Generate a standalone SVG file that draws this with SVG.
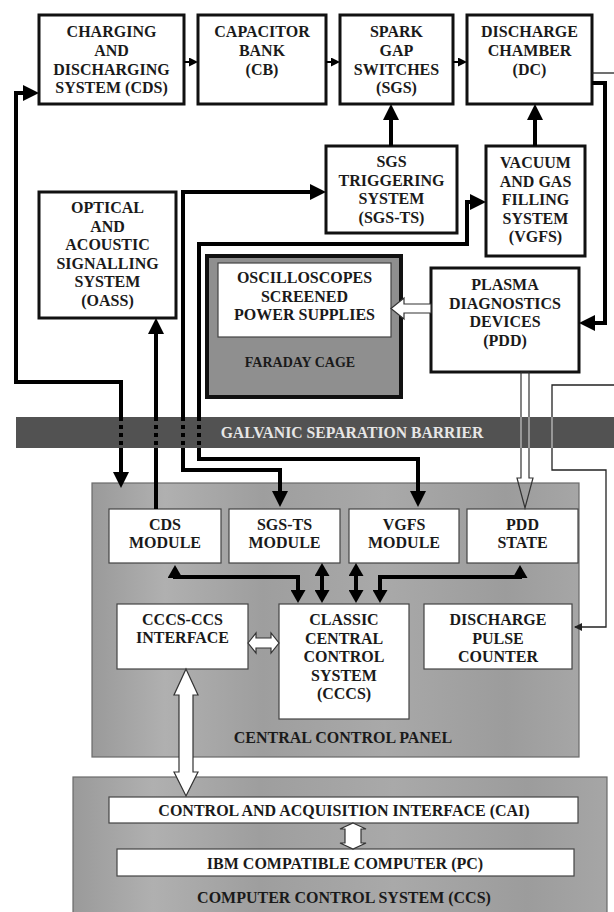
<svg xmlns="http://www.w3.org/2000/svg" width="614" height="912" viewBox="0 0 614 912">
<style>
.t{font-family:"Liberation Serif","Times New Roman",serif;font-weight:bold;font-size:16px;fill:#1a1a1a;text-anchor:middle}
.box{fill:#fff;stroke:#111;stroke-width:3}
.mod{fill:#fff;stroke:#444;stroke-width:1.2}
.panel{fill:#a4a4a4;stroke:#6a6a6a;stroke-width:1.2}
.thick{fill:none;stroke:#000;stroke-width:4;stroke-linejoin:miter}
.thin{fill:none;stroke:#222;stroke-width:1.3}
.small{fill:none;stroke:#000;stroke-width:2}
.hollow{fill:#fff;stroke:#333;stroke-width:1.2;stroke-linejoin:miter}
.dash{fill:none;stroke:#000;stroke-width:4;stroke-dasharray:4 4}
.lite{fill:none;stroke:#bdbdbd;stroke-width:1.3}
</style>
<defs>
<marker id="ah" markerUnits="userSpaceOnUse" markerWidth="16" markerHeight="16" viewBox="0 0 16 16" refX="10" refY="8" orient="auto-start-reverse"><path d="M0,0 L16,8 L0,16 z" fill="#000"/></marker>
<marker id="ah2" markerUnits="userSpaceOnUse" markerWidth="13" markerHeight="15" viewBox="0 0 13 15" refX="8" refY="7.5" orient="auto-start-reverse"><path d="M0,0 L13,7.5 L0,15 z" fill="#000"/></marker>
<marker id="as" markerUnits="userSpaceOnUse" markerWidth="9" markerHeight="9" viewBox="0 0 9 9" refX="7" refY="4.5" orient="auto"><path d="M0,0 L9,4.5 L0,9 z" fill="#000"/></marker>
<marker id="at" markerUnits="userSpaceOnUse" markerWidth="8" markerHeight="8" viewBox="0 0 8 8" refX="7" refY="4" orient="auto"><path d="M0,0 L8,4 L0,8 z" fill="#222"/></marker>
<linearGradient id="pg" x1="0" y1="0" x2="1" y2="0">
<stop offset="0" stop-color="#9a9a9a"/><stop offset="0.15" stop-color="#b0b0b0"/><stop offset="0.35" stop-color="#9e9e9e"/><stop offset="0.6" stop-color="#a9a9a9"/><stop offset="0.85" stop-color="#9c9c9c"/><stop offset="1" stop-color="#a6a6a6"/>
</linearGradient>
</defs>
<rect width="614" height="912" fill="#fff"/>

<g id="central-control-panel">
<rect class="panel" x="92" y="483" width="487" height="274" fill="url(#pg)" style="fill:url(#pg)"/>
<text class="t" x="343" y="743">CENTRAL CONTROL PANEL</text>
</g>
<g id="computer-control-system">
<rect class="panel" x="73" y="777" width="534" height="140" style="fill:url(#pg)"/>
<text class="t" x="344" y="903">COMPUTER CONTROL SYSTEM (CCS)</text>
</g>

<g id="faraday-cage">
<rect x="207" y="256" width="194" height="141" fill="#8f8f8f" stroke="#111" stroke-width="4"/>
<text class="t" x="300" y="367" style="font-size:14px">FARADAY CAGE</text>
</g>
<g id="oscilloscopes">
<rect x="218" y="263" width="173" height="74" fill="#fff" stroke="#444" stroke-width="1.2"/>
<text class="t" x="304.5" y="283">OSCILLOSCOPES</text>
<text class="t" x="304.5" y="302">SCREENED</text>
<text class="t" x="304.5" y="320">POWER SUPPLIES</text>
</g>

<g id="cds">
<rect class="box" x="39" y="15" width="145" height="89"/>
<text class="t" x="111.5" y="37">CHARGING</text>
<text class="t" x="111.5" y="56">AND</text>
<text class="t" x="111.5" y="75">DISCHARGING</text>
<text class="t" x="111.5" y="93">SYSTEM (CDS)</text>
</g>
<g id="cb">
<rect class="box" x="198" y="15" width="128" height="89"/>
<text class="t" x="262" y="37">CAPACITOR</text>
<text class="t" x="262" y="56">BANK</text>
<text class="t" x="262" y="75">(CB)</text>
</g>
<g id="sgs">
<rect class="box" x="340" y="15" width="113" height="89"/>
<text class="t" x="396.5" y="37">SPARK</text>
<text class="t" x="396.5" y="56">GAP</text>
<text class="t" x="396.5" y="75">SWITCHES</text>
<text class="t" x="396.5" y="93">(SGS)</text>
</g>
<g id="dc">
<rect class="box" x="467" y="15" width="125" height="89"/>
<text class="t" x="529.5" y="37">DISCHARGE</text>
<text class="t" x="529.5" y="56">CHAMBER</text>
<text class="t" x="529.5" y="75">(DC)</text>
</g>
<g id="sgs-ts">
<rect class="box" x="326" y="146" width="131" height="87"/>
<text class="t" x="391.5" y="167">SGS</text>
<text class="t" x="391.5" y="185.5">TRIGGERING</text>
<text class="t" x="391.5" y="204">SYSTEM</text>
<text class="t" x="391.5" y="222.5">(SGS-TS)</text>
</g>
<g id="vgfs">
<rect class="box" x="486" y="146" width="99" height="110"/>
<text class="t" x="535.5" y="168">VACUUM</text>
<text class="t" x="535.5" y="186.5">AND GAS</text>
<text class="t" x="535.5" y="205">FILLING</text>
<text class="t" x="535.5" y="223.5">SYSTEM</text>
<text class="t" x="535.5" y="242">(VGFS)</text>
</g>
<g id="oass">
<rect class="box" x="39" y="192" width="137" height="126"/>
<text class="t" x="107.5" y="213">OPTICAL</text>
<text class="t" x="107.5" y="231.5">AND</text>
<text class="t" x="107.5" y="250">ACOUSTIC</text>
<text class="t" x="107.5" y="268.5">SIGNALLING</text>
<text class="t" x="107.5" y="287">SYSTEM</text>
<text class="t" x="107.5" y="305.5">(OASS)</text>
</g>
<g id="pdd">
<rect class="box" x="431" y="268" width="148" height="104"/>
<text class="t" x="505" y="290">PLASMA</text>
<text class="t" x="505" y="308.5">DIAGNOSTICS</text>
<text class="t" x="505" y="327">DEVICES</text>
<text class="t" x="505" y="345.5">(PDD)</text>
</g>

<g id="cds-module">
<rect class="mod" x="109" y="509" width="112" height="54"/>
<text class="t" x="165" y="530">CDS</text>
<text class="t" x="165" y="548">MODULE</text>
</g>
<g id="sgs-ts-module">
<rect class="mod" x="229" y="509" width="111" height="54"/>
<text class="t" x="284.5" y="530">SGS-TS</text>
<text class="t" x="284.5" y="548">MODULE</text>
</g>
<g id="vgfs-module">
<rect class="mod" x="349" y="509" width="110" height="54"/>
<text class="t" x="404" y="530">VGFS</text>
<text class="t" x="404" y="548">MODULE</text>
</g>
<g id="pdd-state">
<rect class="mod" x="467" y="509" width="111" height="54"/>
<text class="t" x="522.5" y="530">PDD</text>
<text class="t" x="522.5" y="548">STATE</text>
</g>
<g id="cccs-ccs-interface">
<rect class="mod" x="117" y="604" width="131" height="65"/>
<text class="t" x="182.5" y="625">CCCS-CCS</text>
<text class="t" x="182.5" y="643">INTERFACE</text>
</g>
<g id="cccs">
<rect class="mod" x="279" y="604" width="130" height="115"/>
<text class="t" x="344" y="625">CLASSIC</text>
<text class="t" x="344" y="643.5">CENTRAL</text>
<text class="t" x="344" y="662">CONTROL</text>
<text class="t" x="344" y="680.5">SYSTEM</text>
<text class="t" x="344" y="699">(CCCS)</text>
</g>
<g id="discharge-pulse-counter">
<rect class="mod" x="424" y="604" width="148" height="65"/>
<text class="t" x="498" y="625">DISCHARGE</text>
<text class="t" x="498" y="643.5">PULSE</text>
<text class="t" x="498" y="662">COUNTER</text>
</g>
<g id="cai">
<rect class="mod" x="109" y="797" width="469" height="26"/>
<text class="t" x="344" y="816">CONTROL AND ACQUISITION INTERFACE (CAI)</text>
</g>
<g id="pc">
<rect class="mod" x="117" y="849" width="457" height="27"/>
<text class="t" x="345" y="869">IBM COMPATIBLE COMPUTER (PC)</text>
</g>

<g id="connectors">
<path class="small" d="M184,62 L196,62" marker-end="url(#as)"/>
<path class="small" d="M326,62 L338,62" marker-end="url(#as)"/>
<path class="small" d="M453,62 L465,62" marker-end="url(#as)"/>
<path class="thick" d="M391,146 L391,110" marker-end="url(#ah)"/>
<path class="thick" d="M535,146 L535,110" marker-end="url(#ah)"/>
<path class="thick" d="M592,83 L605,83 L605,323 L585,323" marker-end="url(#ah)"/>
<path class="thick" d="M121,482 L121,382 L16,382 L16,93 L33,93" marker-start="url(#ah)" marker-end="url(#ah)"/>
<path class="thick" d="M156,509 L156,324" marker-end="url(#ah)"/>
<path class="thick" d="M280,501 L280,470 L183,470 L183,192 L320,192" marker-start="url(#ah)" marker-end="url(#ah)"/>
<path class="thick" d="M418,501 L418,459 L199,459 L199,244 L467,244 L467,202 L480,202" marker-start="url(#ah)" marker-end="url(#ah)"/>
<path class="thick" d="M175,570 L175,577 L298,577 L298,598" marker-start="url(#ah2)" marker-end="url(#ah2)"/>
<path class="thick" d="M322,568 L322,598" marker-start="url(#ah2)" marker-end="url(#ah2)"/>
<path class="thick" d="M356,568 L356,598" marker-start="url(#ah2)" marker-end="url(#ah2)"/>
<path class="thick" d="M520,570 L520,577 L380,577 L380,598" marker-start="url(#ah2)" marker-end="url(#ah2)"/>
<path class="thin" d="M592,73 L614,73"/>
<path class="thin" d="M614,385 L552,385 L552,470 L606,470 L606,627 L575,627" marker-end="url(#at)"/>
<polygon class="hollow" points="521,372 529,372 529,478 533,478 525,508 517,478 521,478" style="fill:none"/>
<polygon class="hollow" points="431,304 404,304 404,298 391,308.5 404,319 404,313 431,313"/>
<polygon class="hollow" points="248,643 256,633 256,638 271,638 271,633 279,643 271,653 271,648 256,648 256,653"/>
<polygon class="hollow" points="186,669 198,695 193,695 193,772 198,772 186,796 174,772 179,772 179,695 174,695"/>
<polygon class="hollow" points="353,823 366,829 361,829 361,843 366,843 353,849 340,843 345,843 345,829 340,829"/>
</g>

<g id="galvanic-barrier">
<rect x="16" y="417" width="598" height="31" fill="#525252"/>
<text class="t" x="352" y="438" style="fill:#e6e6e6;font-size:15.7px">GALVANIC SEPARATION BARRIER</text>
</g>
<g id="barrier-crossings">
<path class="dash" d="M121,417 L121,448 M156,417 L156,448 M183,417 L183,448 M199,417 L199,448"/>
<path class="lite" d="M521,417 L521,448 M529,417 L529,448 M552,417 L552,448"/>
</g>
</svg>
